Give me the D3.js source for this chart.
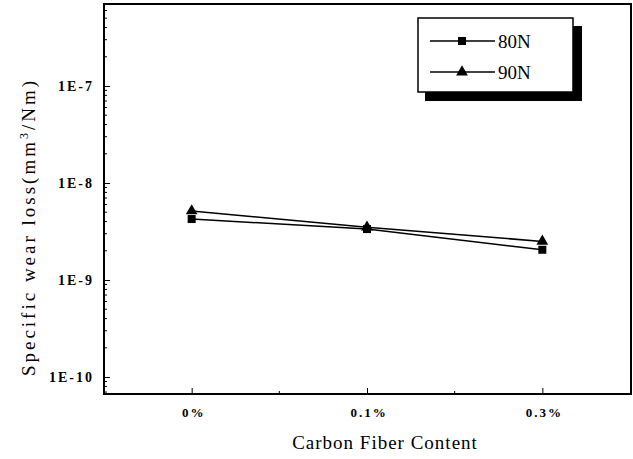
<!DOCTYPE html>
<html lang="en">
  <head>
    <meta charset="UTF-8" />
    <title>Specific wear loss</title>
    <style>
      body { margin: 0; background: #fff; }
      text { font-family: "Liberation Serif", "DejaVu Serif", serif; fill: #000; }
    </style>
  </head>
  <body>
    <div class="chart"></div>
    <script src="https://d3js.org/d3.v7.min.js"></script>
    <script>
      const categories = ["0%", "0.1%", "0.3%"];
      const load80 = [4.25e-9, 3.35e-9, 2.05e-9];
      const load90 = [5.15e-9, 3.5e-9, 2.5e-9];
      const seriesNames = ["80N", "90N"];
      const yTickValues = [1e-7, 1e-8, 1e-9, 1e-10];
      const yTickLabels = ["1E-7", "1E-8", "1E-9", "1E-10"];

      const width = 633;
      const height = 459;
      const plotL = 104, plotR = 631, plotT = 4, plotB = 394;

      const svg = d3
        .select(".chart")
        .append("svg")
        .attr("width", width)
        .attr("height", height);

      const x = d3.scaleLinear().domain([-0.5, 2.5]).range([plotL, plotR - 1]);
      const y = d3
        .scaleLog()
        .domain([Math.pow(10, -10.175), Math.pow(10, -6.155)])
        .range([plotB, plotT]);

      // 框線
      svg
        .append("rect")
        .attr("x", plotL)
        .attr("y", plotT)
        .attr("width", plotR - plotL)
        .attr("height", plotB - plotT)
        .attr("fill", "none")
        .attr("stroke", "#000")
        .attr("stroke-width", 2);

      // y 軸刻度(朝內)
      const yAxis = d3
        .axisRight(y)
        .tickValues(yTickValues)
        .tickSize(6)
        .tickFormat("");
      svg.append("g").attr("transform", `translate(${plotL},0)`).call(yAxis)
        .call((g) => g.select(".domain").remove());

      const minor = [];
      for (let e = -11; e <= -6; e++) {
        for (let m = 2; m <= 9; m++) {
          const v = m * Math.pow(10, e);
          if (y(v) > plotT + 1 && y(v) < plotB - 1) minor.push(v);
        }
      }
      svg
        .append("g")
        .selectAll("line")
        .data(minor)
        .join("line")
        .attr("x1", plotL)
        .attr("x2", plotL + 3)
        .attr("y1", (d) => y(d))
        .attr("y2", (d) => y(d))
        .attr("stroke", "#000");

      svg
        .append("g")
        .selectAll("text")
        .data(yTickValues)
        .join("text")
        .attr("x", plotL - 10)
        .attr("y", (d) => y(d) + 5)
        .attr("text-anchor", "end")
        .style("font-size", "14px")
        .style("font-weight", "bold")
        .style("letter-spacing", "2px")
        .text((d, i) => yTickLabels[i]);

      // x 軸刻度
      const xAxis = d3
        .axisTop(x)
        .tickValues([0, 1, 2])
        .tickSize(6)
        .tickFormat("");
      svg.append("g").attr("transform", `translate(0,${plotB})`).call(xAxis)
        .call((g) => g.select(".domain").remove());
      svg
        .append("g")
        .selectAll("line")
        .data([0.5, 1.5])
        .join("line")
        .attr("x1", (d) => x(d))
        .attr("x2", (d) => x(d))
        .attr("y1", plotB)
        .attr("y2", plotB - 3)
        .attr("stroke", "#000");

      svg
        .append("g")
        .selectAll("text")
        .data(categories)
        .join("text")
        .attr("x", (d, i) => x(i) + 2)
        .attr("y", plotB + 23)
        .attr("text-anchor", "middle")
        .style("font-size", "13px")
        .style("font-weight", "bold")
        .style("letter-spacing", "2px")
        .text((d) => d);

      // 軸標題
      svg
        .append("text")
        .attr("x", 385)
        .attr("y", 449)
        .attr("text-anchor", "middle")
        .style("font-size", "19px")
        .style("letter-spacing", "1px")
        .text("Carbon Fiber Content");

      svg
        .append("text")
        .attr("transform", "translate(35,227) rotate(-90)")
        .attr("text-anchor", "middle")
        .style("font-size", "19px")
        .style("letter-spacing", "3px")
        .html('Specific wear loss(mm<tspan dy="-7" font-size="12px">3</tspan><tspan dy="7">/Nm)</tspan>');

      // 資料線與標記
      const line = d3
        .line()
        .x((d, i) => x(i))
        .y((d) => y(d));

      const series = [load80, load90];
      series.forEach((vals) => {
        svg
          .append("path")
          .datum(vals)
          .attr("d", line)
          .attr("fill", "none")
          .attr("stroke", "#000")
          .attr("stroke-width", 1.5);
      });

      svg
        .append("g")
        .selectAll("rect")
        .data(load80)
        .join("rect")
        .attr("x", (d, i) => x(i) - 4)
        .attr("y", (d) => y(d) - 4)
        .attr("width", 8)
        .attr("height", 8)
        .attr("fill", "#000");

      const tri = d3.symbol().type(d3.symbolTriangle).size(60);
      svg
        .append("g")
        .selectAll("path")
        .data(load90)
        .join("path")
        .attr("d", tri)
        .attr("transform", (d, i) => `translate(${x(i)},${y(d)})`)
        .attr("fill", "#000");

      // 圖例
      const lg = svg.append("g");
      lg.append("rect")
        .attr("x", 425)
        .attr("y", 26)
        .attr("width", 157)
        .attr("height", 75)
        .attr("fill", "#000");
      lg.append("rect")
        .attr("x", 418)
        .attr("y", 18)
        .attr("width", 155)
        .attr("height", 74)
        .attr("fill", "#fff")
        .attr("stroke", "#000")
        .attr("stroke-width", 1.5);

      const rowY = [41, 72];
      seriesNames.forEach((name, i) => {
        lg.append("line")
          .attr("x1", 430)
          .attr("x2", 495)
          .attr("y1", rowY[i])
          .attr("y2", rowY[i])
          .attr("stroke", "#000")
          .attr("stroke-width", 1.5);
        if (i === 0) {
          lg.append("rect")
            .attr("x", 458)
            .attr("y", rowY[i] - 4)
            .attr("width", 8)
            .attr("height", 8)
            .attr("fill", "#000");
        } else {
          lg.append("path")
            .attr("d", tri)
            .attr("transform", `translate(462,${rowY[i]})`)
            .attr("fill", "#000");
        }
        lg.append("text")
          .attr("x", 498)
          .attr("y", rowY[i] + 7)
          .style("font-size", "19px")
          .text(name);
      });
    </script>
  </body>
</html>
